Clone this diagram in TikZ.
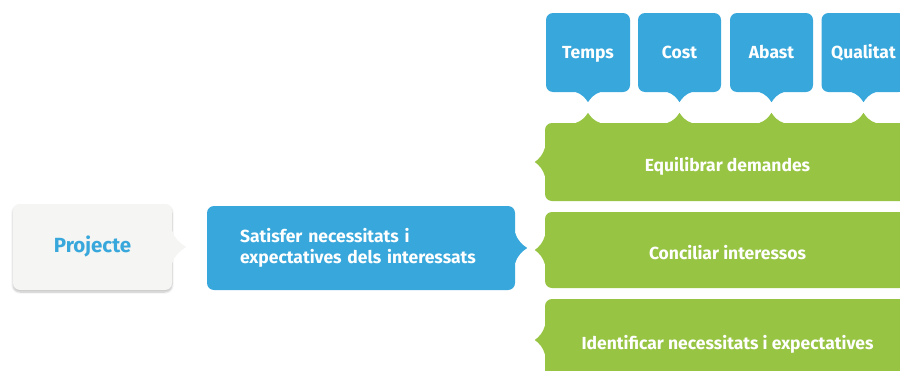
\documentclass[tikz,border=0pt]{standalone}
\usepackage{fontspec}
\setmainfont{Fira Sans}
\usetikzlibrary{shadows.blur}
\definecolor{bl}{HTML}{38A7DB}
\definecolor{gr}{HTML}{97C443}
\definecolor{gy}{HTML}{F5F5F3}
\newcommand\bump[6]{\fill[#4, shift={#1}, x={#2}, y={#3}] (-3,-#5) -- (0,-#5) .. controls ({0.15*#6},{-0.55*#5}) and ({0.6*#6},{-0.2*#5}) .. (#6,0) .. controls ({0.6*#6},{0.2*#5}) and ({0.15*#6},{0.55*#5}) .. (0,#5) -- (-3,#5) -- cycle;}
\begin{document}
\begin{tikzpicture}[x=1pt,y=-1pt,
  base/.style={rectangle, rounded corners=7pt, inner sep=0pt, text=white, font=\bfseries\fontsize{17.5}{21.5}\selectfont},
  bluebox/.style={base, fill=bl},
  greenbox/.style={base, fill=gr, text height=18.5pt, text depth=0pt},
  graybox/.style={base, fill=gy, text=bl, font=\bfseries\fontsize{20.5}{24}\selectfont,
    text height=14.1pt, text depth=4pt,
    blur shadow={shadow xshift=0pt, shadow yshift=-2pt, shadow blur steps=6, shadow opacity=25}},
  topbox/.style={bluebox, minimum height=79pt, text height=12.1pt, text depth=0pt}]
\useasboundingbox (0,0) rectangle (900,370);
\clip (0,0) rectangle (900,370);
\node[graybox, minimum width=159pt, minimum height=86pt] (proj) at (92.5,247) {Projecte};
\node[bluebox, text width=242pt, inner xsep=33pt, minimum height=84pt, align=left] (sat) at (361,248) {Satisfer necessitats i\\expectatives dels interessats};
\node[greenbox, minimum width=365pt, minimum height=78pt] (g1) at (727.5,162) {Equilibrar demandes};
\node[greenbox, minimum width=365pt, minimum height=76pt] (g2) at (727.5,250) {Conciliar interessos};
\node[greenbox, minimum width=365pt, minimum height=82pt] (g3) at (727.5,340) {Identificar necessitats i expectatives};
\node[topbox, minimum width=84pt] (t1) at (588,52.5) {Temps};
\node[topbox, minimum width=83pt] (t2) at (679.5,52.5) {Cost};
\node[topbox, minimum width=83pt] (t3) at (771.5,52.5) {Abast};
\node[topbox, minimum width=84pt] (t4) at (863.5,52.5) {Qualitat};
\bump{(proj.east)}{(1pt,0)}{(0,1pt)}{gy}{16}{14}
\bump{(sat.east)}{(1pt,0)}{(0,1pt)}{bl}{15}{12}
\foreach \g in {g1,g2,g3}{\bump{(\g.west)}{(-1pt,0)}{(0,1pt)}{gr}{14}{10}}
\foreach \t in {t1,t2,t3,t4}{
  \bump{(\t.south)}{(0,-1pt)}{(1pt,0)}{bl}{12}{10}
  \bump{(\t.south |- g1.north)}{(0,1pt)}{(1pt,0)}{gr}{12}{10}
}
\end{tikzpicture}
\end{document}
